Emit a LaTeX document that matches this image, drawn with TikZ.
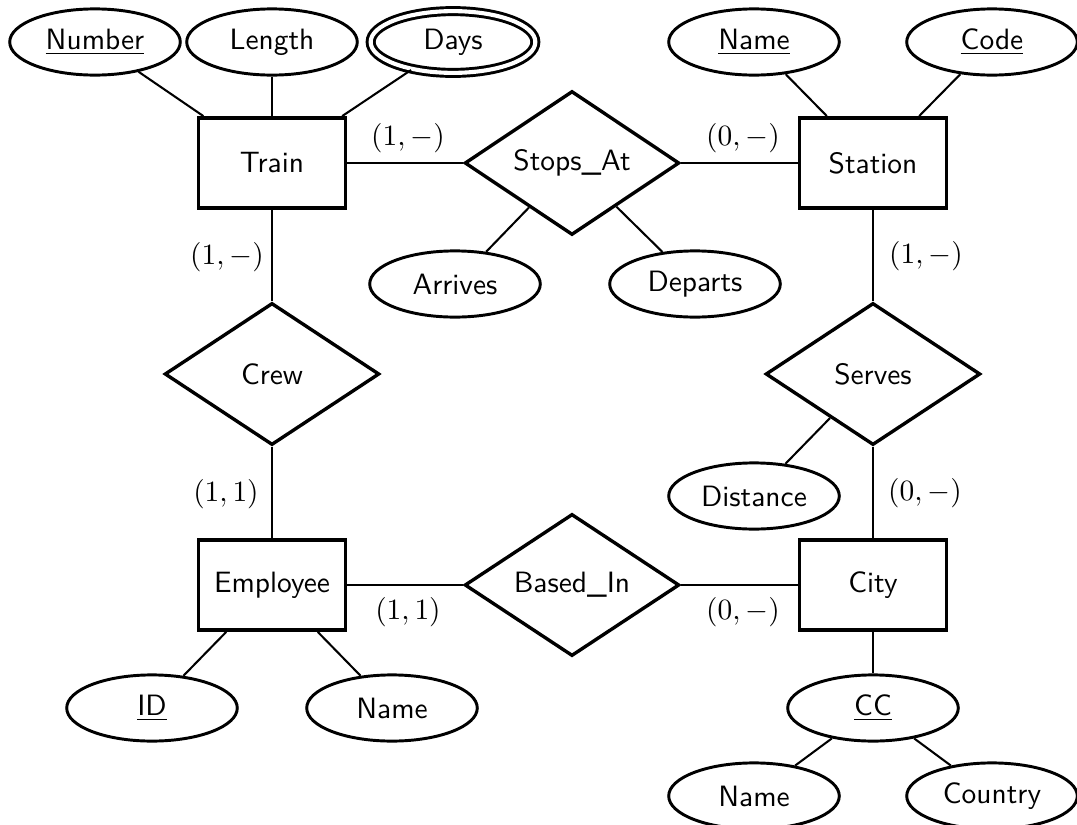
\documentclass[tikz,border=0pt]{standalone}
\usetikzlibrary{shapes.geometric}
\begin{document}
\begin{tikzpicture}[x=0.34pt,y=-0.34pt,
  entity/.style={draw,line width=1.3pt,rectangle,minimum width=50pt,minimum height=30.6pt,inner sep=0pt,font=\sffamily},
  rel/.style={draw,line width=1.15pt,diamond,minimum width=73pt,minimum height=48.3pt,inner sep=0pt,font=\sffamily},
  attr/.style={draw,line width=1pt,ellipse,minimum width=58pt,minimum height=22.5pt,inner sep=0pt,font=\sffamily},
  mattr/.style={attr,double,double distance=1.4pt,minimum width=56pt,minimum height=21pt},
  conn/.style={line width=0.7pt},
  card/.style={inner sep=0pt}]
\useasboundingbox (0,0) rectangle (1077,825);
% entities
\node[entity] (train) at (272,163) {Train};
\node[entity] (station) at (873,163) {Station};
\node[entity] (employee) at (272,585) {Employee};
\node[entity] (city) at (873,585) {City};
% relationships
\node[rel] (stops) at (572,163) {Stops\_At};
\node[rel] (based) at (572,585) {Based\_In};
\node[rel] (crew) at (272,374) {Crew};
\node[rel] (serves) at (873,374) {Serves};
% attributes
\node[attr] (number) at (95,42) {\underline{Number}};
\node[attr] (length) at (272,42) {Length};
\node[mattr] (days) at (453,42) {Days};
\node[attr] (sname) at (754,42) {\underline{Name}};
\node[attr] (code) at (992,42) {\underline{Code}};
\node[attr] (arrives) at (455,284) {Arrives};
\node[attr] (departs) at (695,284) {Departs};
\node[attr] (distance) at (754,496) {Distance};
\node[attr] (id) at (152,708) {\underline{ID}};
\node[attr] (ename) at (392,708) {Name};
\node[attr] (cc) at (873,708) {\underline{CC}};
\node[attr] (cname) at (754,796) {Name};
\node[attr] (country) at (992,796) {Country};
% connectors
\draw[conn] (number) -- (train);
\draw[conn] (length) -- (train);
\draw[conn] (days) -- (train);
\draw[conn] (sname) -- (station);
\draw[conn] (code) -- (station);
\draw[conn] (train) -- (stops);
\draw[conn] (stops) -- (station);
\draw[conn] (stops) -- (arrives);
\draw[conn] (stops) -- (departs);
\draw[conn] (train) -- (crew);
\draw[conn] (crew) -- (employee);
\draw[conn] (station) -- (serves);
\draw[conn] (serves) -- (city);
\draw[conn] (serves) -- (distance);
\draw[conn] (employee) -- (based);
\draw[conn] (based) -- (city);
\draw[conn] (employee) -- (id);
\draw[conn] (employee) -- (ename);
\draw[conn] (city) -- (cc);
\draw[conn] (cc) -- (cname);
\draw[conn] (cc) -- (country);
% cardinalities
\node[card] (c1) at (408,138) {$(1,-)$};
\node[card] (c2) at (743,138) {$(0,-)$};
\node[card] (c3) at (227,257) {$(1,-)$};
\node[card] (c4) at (926,256) {$(1,-)$};
\node[card] (c5) at (226,494) {$(1,1)$};
\node[card] (c6) at (925,493) {$(0,-)$};
\node[card] (c7) at (408,612) {$(1,1)$};
\node[card] (c8) at (743,612) {$(0,-)$};
\end{tikzpicture}
\end{document}
